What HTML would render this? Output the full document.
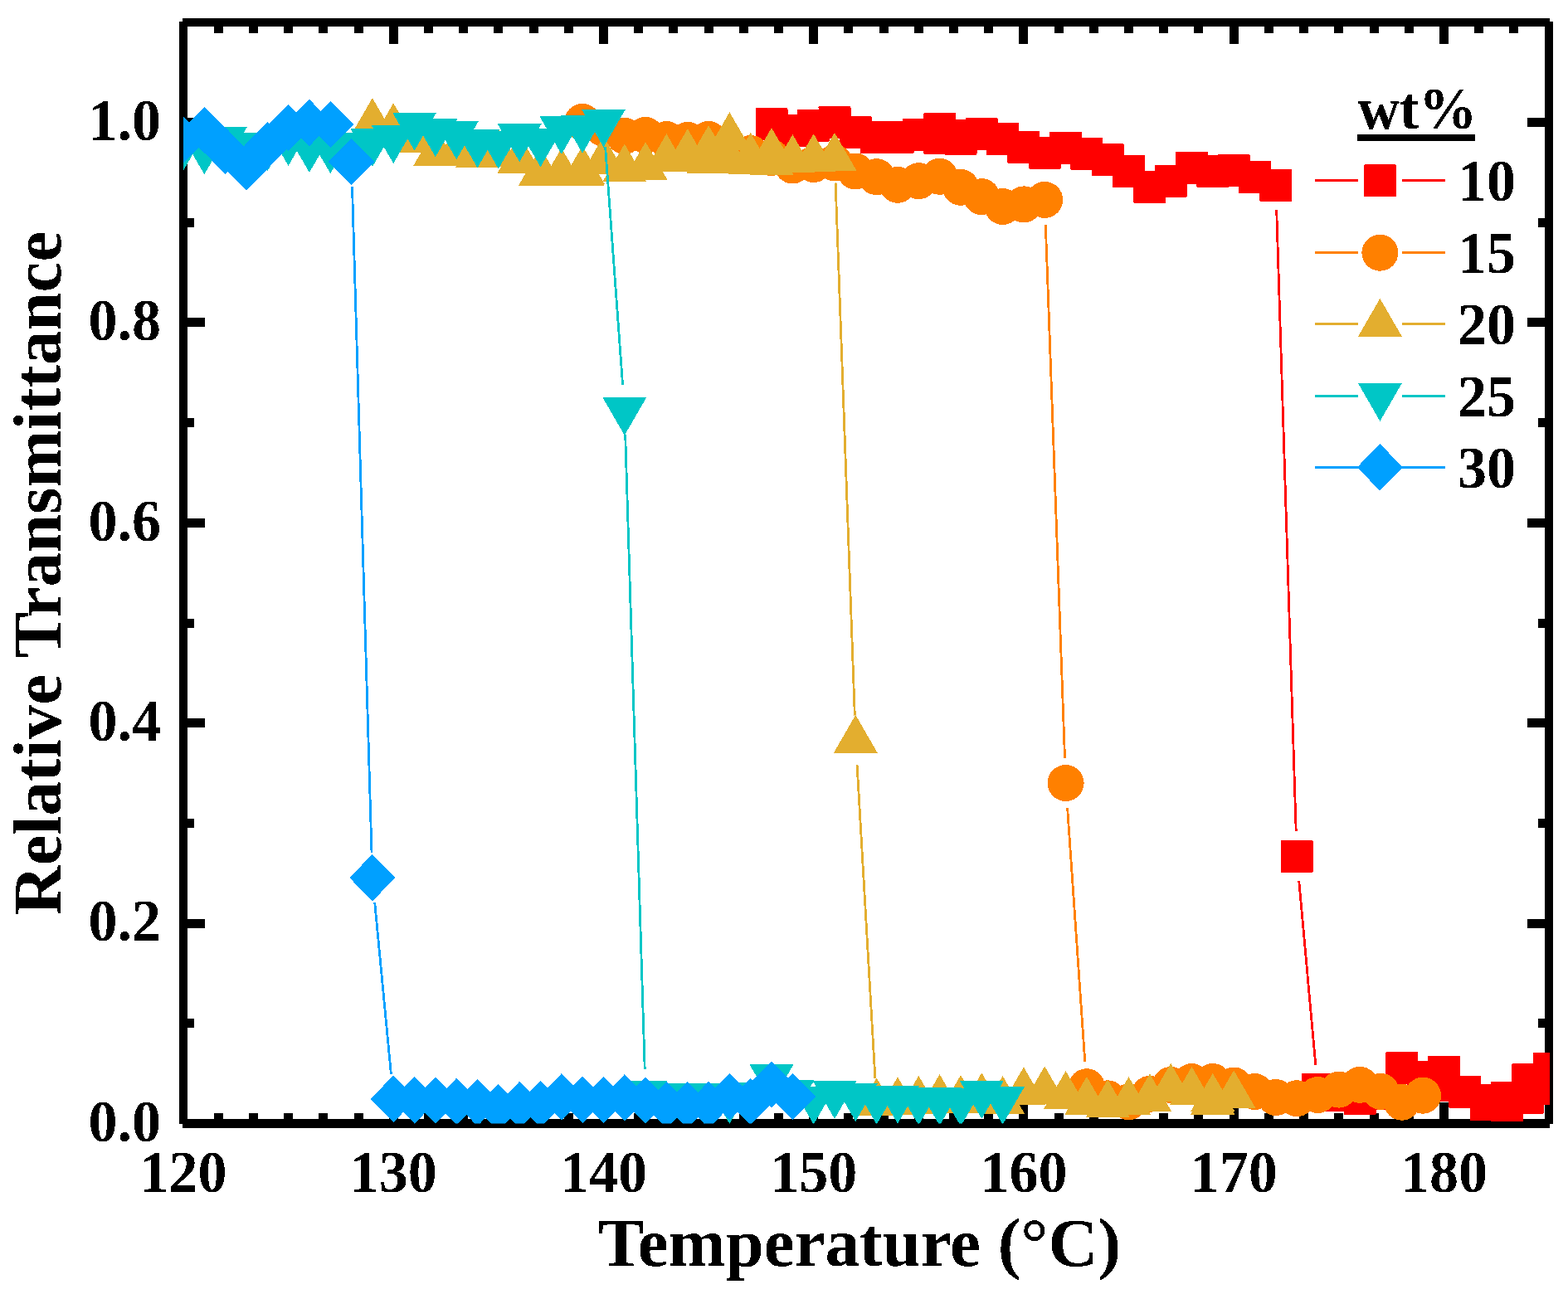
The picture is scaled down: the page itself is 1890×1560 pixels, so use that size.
<!DOCTYPE html><html><head><meta charset="utf-8"><style>html,body{margin:0;padding:0;background:#fff;overflow:hidden}svg{display:block}</style></head><body><svg width="1890" height="1560" viewBox="0 0 1890 1560" shape-rendering="crispEdges">
<rect width="1890" height="1560" fill="#fff"/>
<g stroke="#000" stroke-width="10" fill="none">
<path d="M220 27H1868M221 26V1355M1867 26V1355"/><path d="M220 1354.5H1868" stroke-width="11"/>
</g>
<path d="M263.2 27v13M263.2 1354.5v-13M305.4 27v13M305.4 1354.5v-13M347.6 27v13M347.6 1354.5v-13M389.8 27v13M389.8 1354.5v-13M432.0 27v13M432.0 1354.5v-13M474.2 27v26M474.2 1354.5v-26M516.4 27v13M516.4 1354.5v-13M558.6 27v13M558.6 1354.5v-13M600.8 27v13M600.8 1354.5v-13M643.1 27v13M643.1 1354.5v-13M685.3 27v13M685.3 1354.5v-13M727.5 27v26M727.5 1354.5v-26M769.7 27v13M769.7 1354.5v-13M811.9 27v13M811.9 1354.5v-13M854.1 27v13M854.1 1354.5v-13M896.3 27v13M896.3 1354.5v-13M938.5 27v13M938.5 1354.5v-13M980.7 27v26M980.7 1354.5v-26M1022.9 27v13M1022.9 1354.5v-13M1065.1 27v13M1065.1 1354.5v-13M1107.3 27v13M1107.3 1354.5v-13M1149.5 27v13M1149.5 1354.5v-13M1191.7 27v13M1191.7 1354.5v-13M1233.9 27v26M1233.9 1354.5v-26M1276.1 27v13M1276.1 1354.5v-13M1318.3 27v13M1318.3 1354.5v-13M1360.5 27v13M1360.5 1354.5v-13M1402.7 27v13M1402.7 1354.5v-13M1444.9 27v13M1444.9 1354.5v-13M1487.2 27v26M1487.2 1354.5v-26M1529.4 27v13M1529.4 1354.5v-13M1571.6 27v13M1571.6 1354.5v-13M1613.8 27v13M1613.8 1354.5v-13M1656.0 27v13M1656.0 1354.5v-13M1698.2 27v13M1698.2 1354.5v-13M1740.4 27v26M1740.4 1354.5v-26M1782.6 27v13M1782.6 1354.5v-13M1824.8 27v13M1824.8 1354.5v-13M221 1233.8h13M1867 1233.8h-13M221 1113.1h26M1867 1113.1h-26M221 992.4h13M1867 992.4h-13M221 871.7h26M1867 871.7h-26M221 751.0h13M1867 751.0h-13M221 630.3h26M1867 630.3h-26M221 509.6h13M1867 509.6h-13M221 388.9h26M1867 388.9h-26M221 268.2h13M1867 268.2h-13M221 147.5h26M1867 147.5h-26" stroke="#000" stroke-width="11" fill="none"/>
<filter id="bin" x="0" y="0" width="1890" height="1560" filterUnits="userSpaceOnUse" color-interpolation-filters="sRGB"><feComponentTransfer><feFuncA type="discrete" tableValues="0 1"/></feComponentTransfer></filter>
<g font-family="Liberation Serif, Times New Roman, serif" font-weight="bold" fill="#000" filter="url(#bin)">
<text transform="translate(194 1375.8) scale(1 1.04)" font-size="70" text-anchor="end">0.0</text>
<text transform="translate(194 1134.4) scale(1 1.04)" font-size="70" text-anchor="end">0.2</text>
<text transform="translate(194 893.0) scale(1 1.04)" font-size="70" text-anchor="end">0.4</text>
<text transform="translate(194 651.6) scale(1 1.04)" font-size="70" text-anchor="end">0.6</text>
<text transform="translate(194 410.2) scale(1 1.04)" font-size="70" text-anchor="end">0.8</text>
<text transform="translate(194 168.8) scale(1 1.04)" font-size="70" text-anchor="end">1.0</text>
<text transform="translate(221.0 1437.3) scale(1 1.04)" font-size="70" text-anchor="middle">120</text>
<text transform="translate(474.2 1437.3) scale(1 1.04)" font-size="70" text-anchor="middle">130</text>
<text transform="translate(727.5 1437.3) scale(1 1.04)" font-size="70" text-anchor="middle">140</text>
<text transform="translate(980.7 1437.3) scale(1 1.04)" font-size="70" text-anchor="middle">150</text>
<text transform="translate(1233.9 1437.3) scale(1 1.04)" font-size="70" text-anchor="middle">160</text>
<text transform="translate(1487.2 1437.3) scale(1 1.04)" font-size="70" text-anchor="middle">170</text>
<text transform="translate(1740.4 1437.3) scale(1 1.04)" font-size="70" text-anchor="middle">180</text>
<text x="1036" y="1526.4" font-size="83" text-anchor="middle">Temperature (°C)</text>
<text transform="translate(72.8 691) rotate(-90)" font-size="83" text-anchor="middle">Relative Transmittance</text>
<text transform="translate(1636.5 155.4) scale(1 1.03)" font-size="70">wt%</text>
<rect x="1636" y="162.2" width="142" height="7.5"/>
<text transform="translate(1757 242.3) scale(1 1.04)" font-size="70">10</text>
<text transform="translate(1757 329.2) scale(1 1.04)" font-size="70">15</text>
<text transform="translate(1757 415.0) scale(1 1.04)" font-size="70">20</text>
<text transform="translate(1757 501.7) scale(1 1.04)" font-size="70">25</text>
<text transform="translate(1757 587.9) scale(1 1.04)" font-size="70">30</text>
</g>
<path d="M1585 217.8H1637M1690 217.8H1742" stroke="#FF0000" stroke-width="2.8"/>
<rect x="1643.9" y="198.3" width="39.0" height="39.0" rx="1.5" fill="#FF0000"/>
<path d="M1585 304.7H1637M1690 304.7H1742" stroke="#FF8000" stroke-width="2.8"/>
<circle cx="1663.4" cy="304.7" r="22" fill="#FF8000"/>
<path d="M1585 390.5H1637M1690 390.5H1742" stroke="#E3AE2F" stroke-width="2.8"/>
<path d="M1663.4 359.9L1689.9 405.8L1636.9 405.8Z" fill="#E3AE2F"/>
<path d="M1585 477.2H1637M1690 477.2H1742" stroke="#00C6C6" stroke-width="2.8"/>
<path d="M1663.4 507.8L1689.9 461.9L1636.9 461.9Z" fill="#00C6C6"/>
<path d="M1585 563.4H1637M1690 563.4H1742" stroke="#00A0FF" stroke-width="2.8"/>
<path d="M1663.4 535.2L1691.1 563.4L1663.4 591.6L1635.7 563.4Z" fill="#00A0FF"/>
<defs><clipPath id="cp"><rect x="221" y="27" width="1647" height="1327.5"/></clipPath></defs>
<g clip-path="url(#cp)">
<path d="M1538.7 253.4L1562.2 1002.4M1565.8 1062.3L1585.8 1283.7" stroke="#FF0000" stroke-width="2.8" fill="none"/>
<rect x="910.5" y="130.1" width="39.0" height="39.0" rx="1.5" fill="#FF0000"/>
<rect x="935.9" y="137.8" width="39.0" height="39.0" rx="1.5" fill="#FF0000"/>
<rect x="961.2" y="131.7" width="39.0" height="39.0" rx="1.5" fill="#FF0000"/>
<rect x="986.5" y="128.0" width="39.0" height="39.0" rx="1.5" fill="#FF0000"/>
<rect x="1011.8" y="140.0" width="39.0" height="39.0" rx="1.5" fill="#FF0000"/>
<rect x="1037.2" y="146.4" width="39.0" height="39.0" rx="1.5" fill="#FF0000"/>
<rect x="1062.5" y="146.0" width="39.0" height="39.0" rx="1.5" fill="#FF0000"/>
<rect x="1087.8" y="143.0" width="39.0" height="39.0" rx="1.5" fill="#FF0000"/>
<rect x="1113.1" y="136.2" width="39.0" height="39.0" rx="1.5" fill="#FF0000"/>
<rect x="1113.1" y="146.7" width="39.0" height="39.0" rx="1.5" fill="#FF0000"/>
<rect x="1138.5" y="143.8" width="39.0" height="39.0" rx="1.5" fill="#FF0000"/>
<rect x="1138.5" y="147.7" width="39.0" height="39.0" rx="1.5" fill="#FF0000"/>
<rect x="1163.8" y="142.2" width="39.0" height="39.0" rx="1.5" fill="#FF0000"/>
<rect x="1189.1" y="148.0" width="39.0" height="39.0" rx="1.5" fill="#FF0000"/>
<rect x="1214.4" y="158.0" width="39.0" height="39.0" rx="1.5" fill="#FF0000"/>
<rect x="1239.7" y="164.7" width="39.0" height="39.0" rx="1.5" fill="#FF0000"/>
<rect x="1265.1" y="158.9" width="39.0" height="39.0" rx="1.5" fill="#FF0000"/>
<rect x="1290.4" y="166.0" width="39.0" height="39.0" rx="1.5" fill="#FF0000"/>
<rect x="1315.7" y="172.9" width="39.0" height="39.0" rx="1.5" fill="#FF0000"/>
<rect x="1341.0" y="187.0" width="39.0" height="39.0" rx="1.5" fill="#FF0000"/>
<rect x="1366.4" y="205.8" width="39.0" height="39.0" rx="1.5" fill="#FF0000"/>
<rect x="1391.7" y="199.0" width="39.0" height="39.0" rx="1.5" fill="#FF0000"/>
<rect x="1417.0" y="183.0" width="39.0" height="39.0" rx="1.5" fill="#FF0000"/>
<rect x="1442.3" y="187.0" width="39.0" height="39.0" rx="1.5" fill="#FF0000"/>
<rect x="1467.7" y="186.0" width="39.0" height="39.0" rx="1.5" fill="#FF0000"/>
<rect x="1493.0" y="194.0" width="39.0" height="39.0" rx="1.5" fill="#FF0000"/>
<rect x="1518.3" y="203.9" width="39.0" height="39.0" rx="1.5" fill="#FF0000"/>
<rect x="1543.6" y="1012.9" width="39.0" height="39.0" rx="1.5" fill="#FF0000"/>
<rect x="1568.9" y="1294.1" width="39.0" height="39.0" rx="1.5" fill="#FF0000"/>
<rect x="1594.3" y="1301.4" width="39.0" height="39.0" rx="1.5" fill="#FF0000"/>
<rect x="1619.6" y="1304.9" width="39.0" height="39.0" rx="1.5" fill="#FF0000"/>
<rect x="1644.9" y="1298.5" width="39.0" height="39.0" rx="1.5" fill="#FF0000"/>
<rect x="1670.2" y="1268.0" width="39.0" height="39.0" rx="1.5" fill="#FF0000"/>
<rect x="1695.6" y="1278.9" width="39.0" height="39.0" rx="1.5" fill="#FF0000"/>
<rect x="1720.9" y="1273.1" width="39.0" height="39.0" rx="1.5" fill="#FF0000"/>
<rect x="1720.9" y="1289.0" width="39.0" height="39.0" rx="1.5" fill="#FF0000"/>
<rect x="1746.2" y="1296.8" width="39.0" height="39.0" rx="1.5" fill="#FF0000"/>
<rect x="1771.5" y="1306.8" width="39.0" height="39.0" rx="1.5" fill="#FF0000"/>
<rect x="1771.5" y="1311.8" width="39.0" height="39.0" rx="1.5" fill="#FF0000"/>
<rect x="1796.9" y="1304.1" width="39.0" height="39.0" rx="1.5" fill="#FF0000"/>
<rect x="1796.9" y="1312.9" width="39.0" height="39.0" rx="1.5" fill="#FF0000"/>
<rect x="1822.2" y="1282.1" width="39.0" height="39.0" rx="1.5" fill="#FF0000"/>
<rect x="1822.2" y="1303.6" width="39.0" height="39.0" rx="1.5" fill="#FF0000"/>
<rect x="1847.5" y="1269.1" width="39.0" height="39.0" rx="1.5" fill="#FF0000"/>
<rect x="1847.5" y="1292.9" width="39.0" height="39.0" rx="1.5" fill="#FF0000"/>
<path d="M1260.3 270.9L1283.5 914.0M1286.6 973.9L1307.8 1280.3" stroke="#FF8000" stroke-width="2.8" fill="none"/>
<circle cx="702.1" cy="146.9" r="22" fill="#FF8000"/>
<circle cx="727.5" cy="155.0" r="22" fill="#FF8000"/>
<circle cx="752.8" cy="163.9" r="22" fill="#FF8000"/>
<circle cx="778.1" cy="163.0" r="22" fill="#FF8000"/>
<circle cx="803.4" cy="168.0" r="22" fill="#FF8000"/>
<circle cx="828.8" cy="168.9" r="22" fill="#FF8000"/>
<circle cx="854.1" cy="168.0" r="22" fill="#FF8000"/>
<circle cx="879.4" cy="180.0" r="22" fill="#FF8000"/>
<circle cx="904.7" cy="185.0" r="22" fill="#FF8000"/>
<circle cx="930.0" cy="190.0" r="22" fill="#FF8000"/>
<circle cx="955.4" cy="199.5" r="22" fill="#FF8000"/>
<circle cx="980.7" cy="198.0" r="22" fill="#FF8000"/>
<circle cx="1006.0" cy="196.5" r="22" fill="#FF8000"/>
<circle cx="1031.3" cy="206.5" r="22" fill="#FF8000"/>
<circle cx="1056.7" cy="213.2" r="22" fill="#FF8000"/>
<circle cx="1082.0" cy="222.8" r="22" fill="#FF8000"/>
<circle cx="1107.3" cy="218.2" r="22" fill="#FF8000"/>
<circle cx="1132.6" cy="212.8" r="22" fill="#FF8000"/>
<circle cx="1158.0" cy="225.8" r="22" fill="#FF8000"/>
<circle cx="1183.3" cy="237.2" r="22" fill="#FF8000"/>
<circle cx="1208.6" cy="249.0" r="22" fill="#FF8000"/>
<circle cx="1233.9" cy="246.4" r="22" fill="#FF8000"/>
<circle cx="1259.2" cy="240.9" r="22" fill="#FF8000"/>
<circle cx="1284.6" cy="944.0" r="22" fill="#FF8000"/>
<circle cx="1309.9" cy="1310.2" r="22" fill="#FF8000"/>
<circle cx="1335.2" cy="1324.3" r="22" fill="#FF8000"/>
<circle cx="1360.5" cy="1328.4" r="22" fill="#FF8000"/>
<circle cx="1385.9" cy="1318.8" r="22" fill="#FF8000"/>
<circle cx="1411.2" cy="1308.0" r="22" fill="#FF8000"/>
<circle cx="1436.5" cy="1304.0" r="22" fill="#FF8000"/>
<circle cx="1461.8" cy="1304.0" r="22" fill="#FF8000"/>
<circle cx="1487.2" cy="1308.5" r="22" fill="#FF8000"/>
<circle cx="1512.5" cy="1316.0" r="22" fill="#FF8000"/>
<circle cx="1537.8" cy="1323.0" r="22" fill="#FF8000"/>
<circle cx="1563.1" cy="1324.2" r="22" fill="#FF8000"/>
<circle cx="1588.4" cy="1320.0" r="22" fill="#FF8000"/>
<circle cx="1613.8" cy="1313.6" r="22" fill="#FF8000"/>
<circle cx="1639.1" cy="1307.8" r="22" fill="#FF8000"/>
<circle cx="1664.4" cy="1315.9" r="22" fill="#FF8000"/>
<circle cx="1689.7" cy="1328.7" r="22" fill="#FF8000"/>
<circle cx="1715.1" cy="1320.7" r="22" fill="#FF8000"/>
<path d="M1007.1 220.5L1030.3 862.5M1033.1 922.4L1054.9 1300.1" stroke="#E3AE2F" stroke-width="2.8" fill="none"/>
<path d="M448.9 118.1L475.4 164.0L422.4 164.0Z" fill="#E3AE2F"/>
<path d="M474.2 124.3L500.7 170.2L447.7 170.2Z" fill="#E3AE2F"/>
<path d="M499.6 137.7L526.1 183.6L473.1 183.6Z" fill="#E3AE2F"/>
<path d="M524.9 153.7L551.4 199.6L498.4 199.6Z" fill="#E3AE2F"/>
<path d="M550.2 152.4L576.7 198.3L523.7 198.3Z" fill="#E3AE2F"/>
<path d="M575.5 156.2L602.0 202.1L549.0 202.1Z" fill="#E3AE2F"/>
<path d="M600.8 155.4L627.3 201.3L574.3 201.3Z" fill="#E3AE2F"/>
<path d="M626.2 162.7L652.7 208.6L599.7 208.6Z" fill="#E3AE2F"/>
<path d="M651.5 177.7L678.0 223.6L625.0 223.6Z" fill="#E3AE2F"/>
<path d="M676.8 178.4L703.3 224.3L650.3 224.3Z" fill="#E3AE2F"/>
<path d="M702.1 175.6L728.6 221.5L675.6 221.5Z" fill="#E3AE2F"/>
<path d="M702.1 178.0L728.6 223.9L675.6 223.9Z" fill="#E3AE2F"/>
<path d="M727.5 163.9L754.0 209.8L701.0 209.8Z" fill="#E3AE2F"/>
<path d="M752.8 173.4L779.3 219.3L726.3 219.3Z" fill="#E3AE2F"/>
<path d="M778.1 171.1L804.6 217.0L751.6 217.0Z" fill="#E3AE2F"/>
<path d="M803.4 161.2L829.9 207.1L776.9 207.1Z" fill="#E3AE2F"/>
<path d="M828.8 155.1L855.3 201.0L802.3 201.0Z" fill="#E3AE2F"/>
<path d="M828.8 161.4L855.3 207.3L802.3 207.3Z" fill="#E3AE2F"/>
<path d="M854.1 151.1L880.6 197.0L827.6 197.0Z" fill="#E3AE2F"/>
<path d="M854.1 162.8L880.6 208.7L827.6 208.7Z" fill="#E3AE2F"/>
<path d="M879.4 135.2L905.9 181.1L852.9 181.1Z" fill="#E3AE2F"/>
<path d="M879.4 162.9L905.9 208.8L852.9 208.8Z" fill="#E3AE2F"/>
<path d="M904.7 160.0L931.2 205.9L878.2 205.9Z" fill="#E3AE2F"/>
<path d="M904.7 164.0L931.2 209.9L878.2 209.9Z" fill="#E3AE2F"/>
<path d="M930.0 154.1L956.5 200.0L903.5 200.0Z" fill="#E3AE2F"/>
<path d="M930.0 164.8L956.5 210.7L903.5 210.7Z" fill="#E3AE2F"/>
<path d="M955.4 162.1L981.9 208.0L928.9 208.0Z" fill="#E3AE2F"/>
<path d="M980.7 161.2L1007.2 207.1L954.2 207.1Z" fill="#E3AE2F"/>
<path d="M1006.0 159.9L1032.5 205.8L979.5 205.8Z" fill="#E3AE2F"/>
<path d="M1031.3 861.9L1057.8 907.8L1004.8 907.8Z" fill="#E3AE2F"/>
<path d="M1056.7 1299.4L1083.2 1345.3L1030.2 1345.3Z" fill="#E3AE2F"/>
<path d="M1082.0 1298.4L1108.5 1344.3L1055.5 1344.3Z" fill="#E3AE2F"/>
<path d="M1107.3 1296.9L1133.8 1342.8L1080.8 1342.8Z" fill="#E3AE2F"/>
<path d="M1132.6 1295.1L1159.1 1341.0L1106.1 1341.0Z" fill="#E3AE2F"/>
<path d="M1158.0 1296.1L1184.5 1342.0L1131.5 1342.0Z" fill="#E3AE2F"/>
<path d="M1183.3 1293.3L1209.8 1339.2L1156.8 1339.2Z" fill="#E3AE2F"/>
<path d="M1208.6 1297.0L1235.1 1342.9L1182.1 1342.9Z" fill="#E3AE2F"/>
<path d="M1233.9 1286.4L1260.4 1332.3L1207.4 1332.3Z" fill="#E3AE2F"/>
<path d="M1259.2 1285.4L1285.7 1331.3L1232.7 1331.3Z" fill="#E3AE2F"/>
<path d="M1284.6 1291.0L1311.1 1336.9L1258.1 1336.9Z" fill="#E3AE2F"/>
<path d="M1309.9 1297.9L1336.4 1343.8L1283.4 1343.8Z" fill="#E3AE2F"/>
<path d="M1335.2 1301.4L1361.7 1347.3L1308.7 1347.3Z" fill="#E3AE2F"/>
<path d="M1360.5 1298.1L1387.0 1344.0L1334.0 1344.0Z" fill="#E3AE2F"/>
<path d="M1385.9 1294.4L1412.4 1340.3L1359.4 1340.3Z" fill="#E3AE2F"/>
<path d="M1411.2 1281.9L1437.7 1327.8L1384.7 1327.8Z" fill="#E3AE2F"/>
<path d="M1436.5 1286.0L1463.0 1331.9L1410.0 1331.9Z" fill="#E3AE2F"/>
<path d="M1461.8 1293.8L1488.3 1339.7L1435.3 1339.7Z" fill="#E3AE2F"/>
<path d="M1461.8 1297.6L1488.3 1343.5L1435.3 1343.5Z" fill="#E3AE2F"/>
<path d="M1487.2 1290.4L1513.7 1336.3L1460.7 1336.3Z" fill="#E3AE2F"/>
<path d="M729.6 176.9L750.6 464.4M753.7 524.3L777.2 1288.6" stroke="#00C6C6" stroke-width="2.8" fill="none"/>
<path d="M221.0 205.6L247.5 159.7L194.5 159.7Z" fill="#00C6C6"/>
<path d="M246.3 210.3L272.8 164.4L219.8 164.4Z" fill="#00C6C6"/>
<path d="M271.6 198.6L298.1 152.7L245.1 152.7Z" fill="#00C6C6"/>
<path d="M297.0 206.2L323.5 160.3L270.5 160.3Z" fill="#00C6C6"/>
<path d="M322.3 206.6L348.8 160.7L295.8 160.7Z" fill="#00C6C6"/>
<path d="M347.6 199.9L374.1 154.0L321.1 154.0Z" fill="#00C6C6"/>
<path d="M372.9 208.0L399.4 162.1L346.4 162.1Z" fill="#00C6C6"/>
<path d="M398.3 209.2L424.8 163.3L371.8 163.3Z" fill="#00C6C6"/>
<path d="M423.6 205.6L450.1 159.7L397.1 159.7Z" fill="#00C6C6"/>
<path d="M448.9 201.1L475.4 155.2L422.4 155.2Z" fill="#00C6C6"/>
<path d="M474.2 197.1L500.7 151.2L447.7 151.2Z" fill="#00C6C6"/>
<path d="M499.6 181.6L526.1 135.7L473.1 135.7Z" fill="#00C6C6"/>
<path d="M524.9 189.3L551.4 143.4L498.4 143.4Z" fill="#00C6C6"/>
<path d="M550.2 192.3L576.7 146.4L523.7 146.4Z" fill="#00C6C6"/>
<path d="M575.5 202.3L602.0 156.4L549.0 156.4Z" fill="#00C6C6"/>
<path d="M600.8 203.6L627.3 157.7L574.3 157.7Z" fill="#00C6C6"/>
<path d="M626.2 195.1L652.7 149.2L599.7 149.2Z" fill="#00C6C6"/>
<path d="M651.5 201.3L678.0 155.4L625.0 155.4Z" fill="#00C6C6"/>
<path d="M676.8 186.0L703.3 140.1L650.3 140.1Z" fill="#00C6C6"/>
<path d="M702.1 184.9L728.6 139.0L675.6 139.0Z" fill="#00C6C6"/>
<path d="M727.5 177.6L754.0 131.7L701.0 131.7Z" fill="#00C6C6"/>
<path d="M752.8 524.9L779.3 479.0L726.3 479.0Z" fill="#00C6C6"/>
<path d="M778.1 1349.2L804.6 1303.3L751.6 1303.3Z" fill="#00C6C6"/>
<path d="M803.4 1352.0L829.9 1306.1L776.9 1306.1Z" fill="#00C6C6"/>
<path d="M828.8 1352.0L855.3 1306.1L802.3 1306.1Z" fill="#00C6C6"/>
<path d="M854.1 1352.0L880.6 1306.1L827.6 1306.1Z" fill="#00C6C6"/>
<path d="M879.4 1354.9L905.9 1309.0L852.9 1309.0Z" fill="#00C6C6"/>
<path d="M904.7 1350.9L931.2 1305.0L878.2 1305.0Z" fill="#00C6C6"/>
<path d="M930.0 1329.2L956.5 1283.3L903.5 1283.3Z" fill="#00C6C6"/>
<path d="M955.4 1347.5L981.9 1301.6L928.9 1301.6Z" fill="#00C6C6"/>
<path d="M980.7 1355.6L1007.2 1309.7L954.2 1309.7Z" fill="#00C6C6"/>
<path d="M1006.0 1348.9L1032.5 1303.0L979.5 1303.0Z" fill="#00C6C6"/>
<path d="M1031.3 1351.9L1057.8 1306.0L1004.8 1306.0Z" fill="#00C6C6"/>
<path d="M1056.7 1355.6L1083.2 1309.7L1030.2 1309.7Z" fill="#00C6C6"/>
<path d="M1082.0 1354.6L1108.5 1308.7L1055.5 1308.7Z" fill="#00C6C6"/>
<path d="M1107.3 1356.6L1133.8 1310.7L1080.8 1310.7Z" fill="#00C6C6"/>
<path d="M1132.6 1356.9L1159.1 1311.0L1106.1 1311.0Z" fill="#00C6C6"/>
<path d="M1158.0 1357.8L1184.5 1311.9L1131.5 1311.9Z" fill="#00C6C6"/>
<path d="M1183.3 1348.8L1209.8 1302.9L1156.8 1302.9Z" fill="#00C6C6"/>
<path d="M1208.6 1355.7L1235.1 1309.8L1182.1 1309.8Z" fill="#00C6C6"/>
<path d="M424.5 225.0L448.0 1028.1M451.7 1088.0L471.4 1294.9" stroke="#00A0FF" stroke-width="2.8" fill="none"/>
<path d="M221.0 140.3L248.7 168.5L221.0 196.7L193.3 168.5Z" fill="#00A0FF"/>
<path d="M246.3 128.8L274.0 157.0L246.3 185.2L218.6 157.0Z" fill="#00A0FF"/>
<path d="M271.6 153.5L299.3 181.7L271.6 209.9L243.9 181.7Z" fill="#00A0FF"/>
<path d="M297.0 173.4L324.7 201.6L297.0 229.8L269.3 201.6Z" fill="#00A0FF"/>
<path d="M322.3 146.8L350.0 175.0L322.3 203.2L294.6 175.0Z" fill="#00A0FF"/>
<path d="M347.6 125.8L375.3 154.0L347.6 182.2L319.9 154.0Z" fill="#00A0FF"/>
<path d="M372.9 119.8L400.6 148.0L372.9 176.2L345.2 148.0Z" fill="#00A0FF"/>
<path d="M398.3 121.8L426.0 150.0L398.3 178.2L370.6 150.0Z" fill="#00A0FF"/>
<path d="M423.6 166.8L451.3 195.0L423.6 223.2L395.9 195.0Z" fill="#00A0FF"/>
<path d="M448.9 1029.9L476.6 1058.1L448.9 1086.3L421.2 1058.1Z" fill="#00A0FF"/>
<path d="M474.2 1296.6L501.9 1324.8L474.2 1353.0L446.5 1324.8Z" fill="#00A0FF"/>
<path d="M499.6 1298.2L527.3 1326.4L499.6 1354.6L471.9 1326.4Z" fill="#00A0FF"/>
<path d="M524.9 1298.2L552.6 1326.4L524.9 1354.6L497.2 1326.4Z" fill="#00A0FF"/>
<path d="M550.2 1299.8L577.9 1328.0L550.2 1356.2L522.5 1328.0Z" fill="#00A0FF"/>
<path d="M575.5 1301.2L603.2 1329.4L575.5 1357.6L547.8 1329.4Z" fill="#00A0FF"/>
<path d="M600.8 1306.8L628.5 1335.0L600.8 1363.2L573.1 1335.0Z" fill="#00A0FF"/>
<path d="M626.2 1303.8L653.9 1332.0L626.2 1360.2L598.5 1332.0Z" fill="#00A0FF"/>
<path d="M651.5 1302.8L679.2 1331.0L651.5 1359.2L623.8 1331.0Z" fill="#00A0FF"/>
<path d="M676.8 1294.2L704.5 1322.4L676.8 1350.6L649.1 1322.4Z" fill="#00A0FF"/>
<path d="M702.1 1297.6L729.8 1325.8L702.1 1354.0L674.4 1325.8Z" fill="#00A0FF"/>
<path d="M727.5 1298.1L755.2 1326.3L727.5 1354.5L699.8 1326.3Z" fill="#00A0FF"/>
<path d="M752.8 1295.2L780.5 1323.4L752.8 1351.6L725.1 1323.4Z" fill="#00A0FF"/>
<path d="M778.1 1298.4L805.8 1326.6L778.1 1354.8L750.4 1326.6Z" fill="#00A0FF"/>
<path d="M803.4 1303.8L831.1 1332.0L803.4 1360.2L775.7 1332.0Z" fill="#00A0FF"/>
<path d="M828.8 1303.8L856.5 1332.0L828.8 1360.2L801.1 1332.0Z" fill="#00A0FF"/>
<path d="M854.1 1303.8L881.8 1332.0L854.1 1360.2L826.4 1332.0Z" fill="#00A0FF"/>
<path d="M879.4 1293.6L907.1 1321.8L879.4 1350.0L851.7 1321.8Z" fill="#00A0FF"/>
<path d="M904.7 1299.8L932.4 1328.0L904.7 1356.2L877.0 1328.0Z" fill="#00A0FF"/>
<path d="M930.0 1279.0L957.7 1307.2L930.0 1335.4L902.3 1307.2Z" fill="#00A0FF"/>
<path d="M955.4 1293.8L983.1 1322.0L955.4 1350.2L927.7 1322.0Z" fill="#00A0FF"/>
</g>
</svg></body></html>
